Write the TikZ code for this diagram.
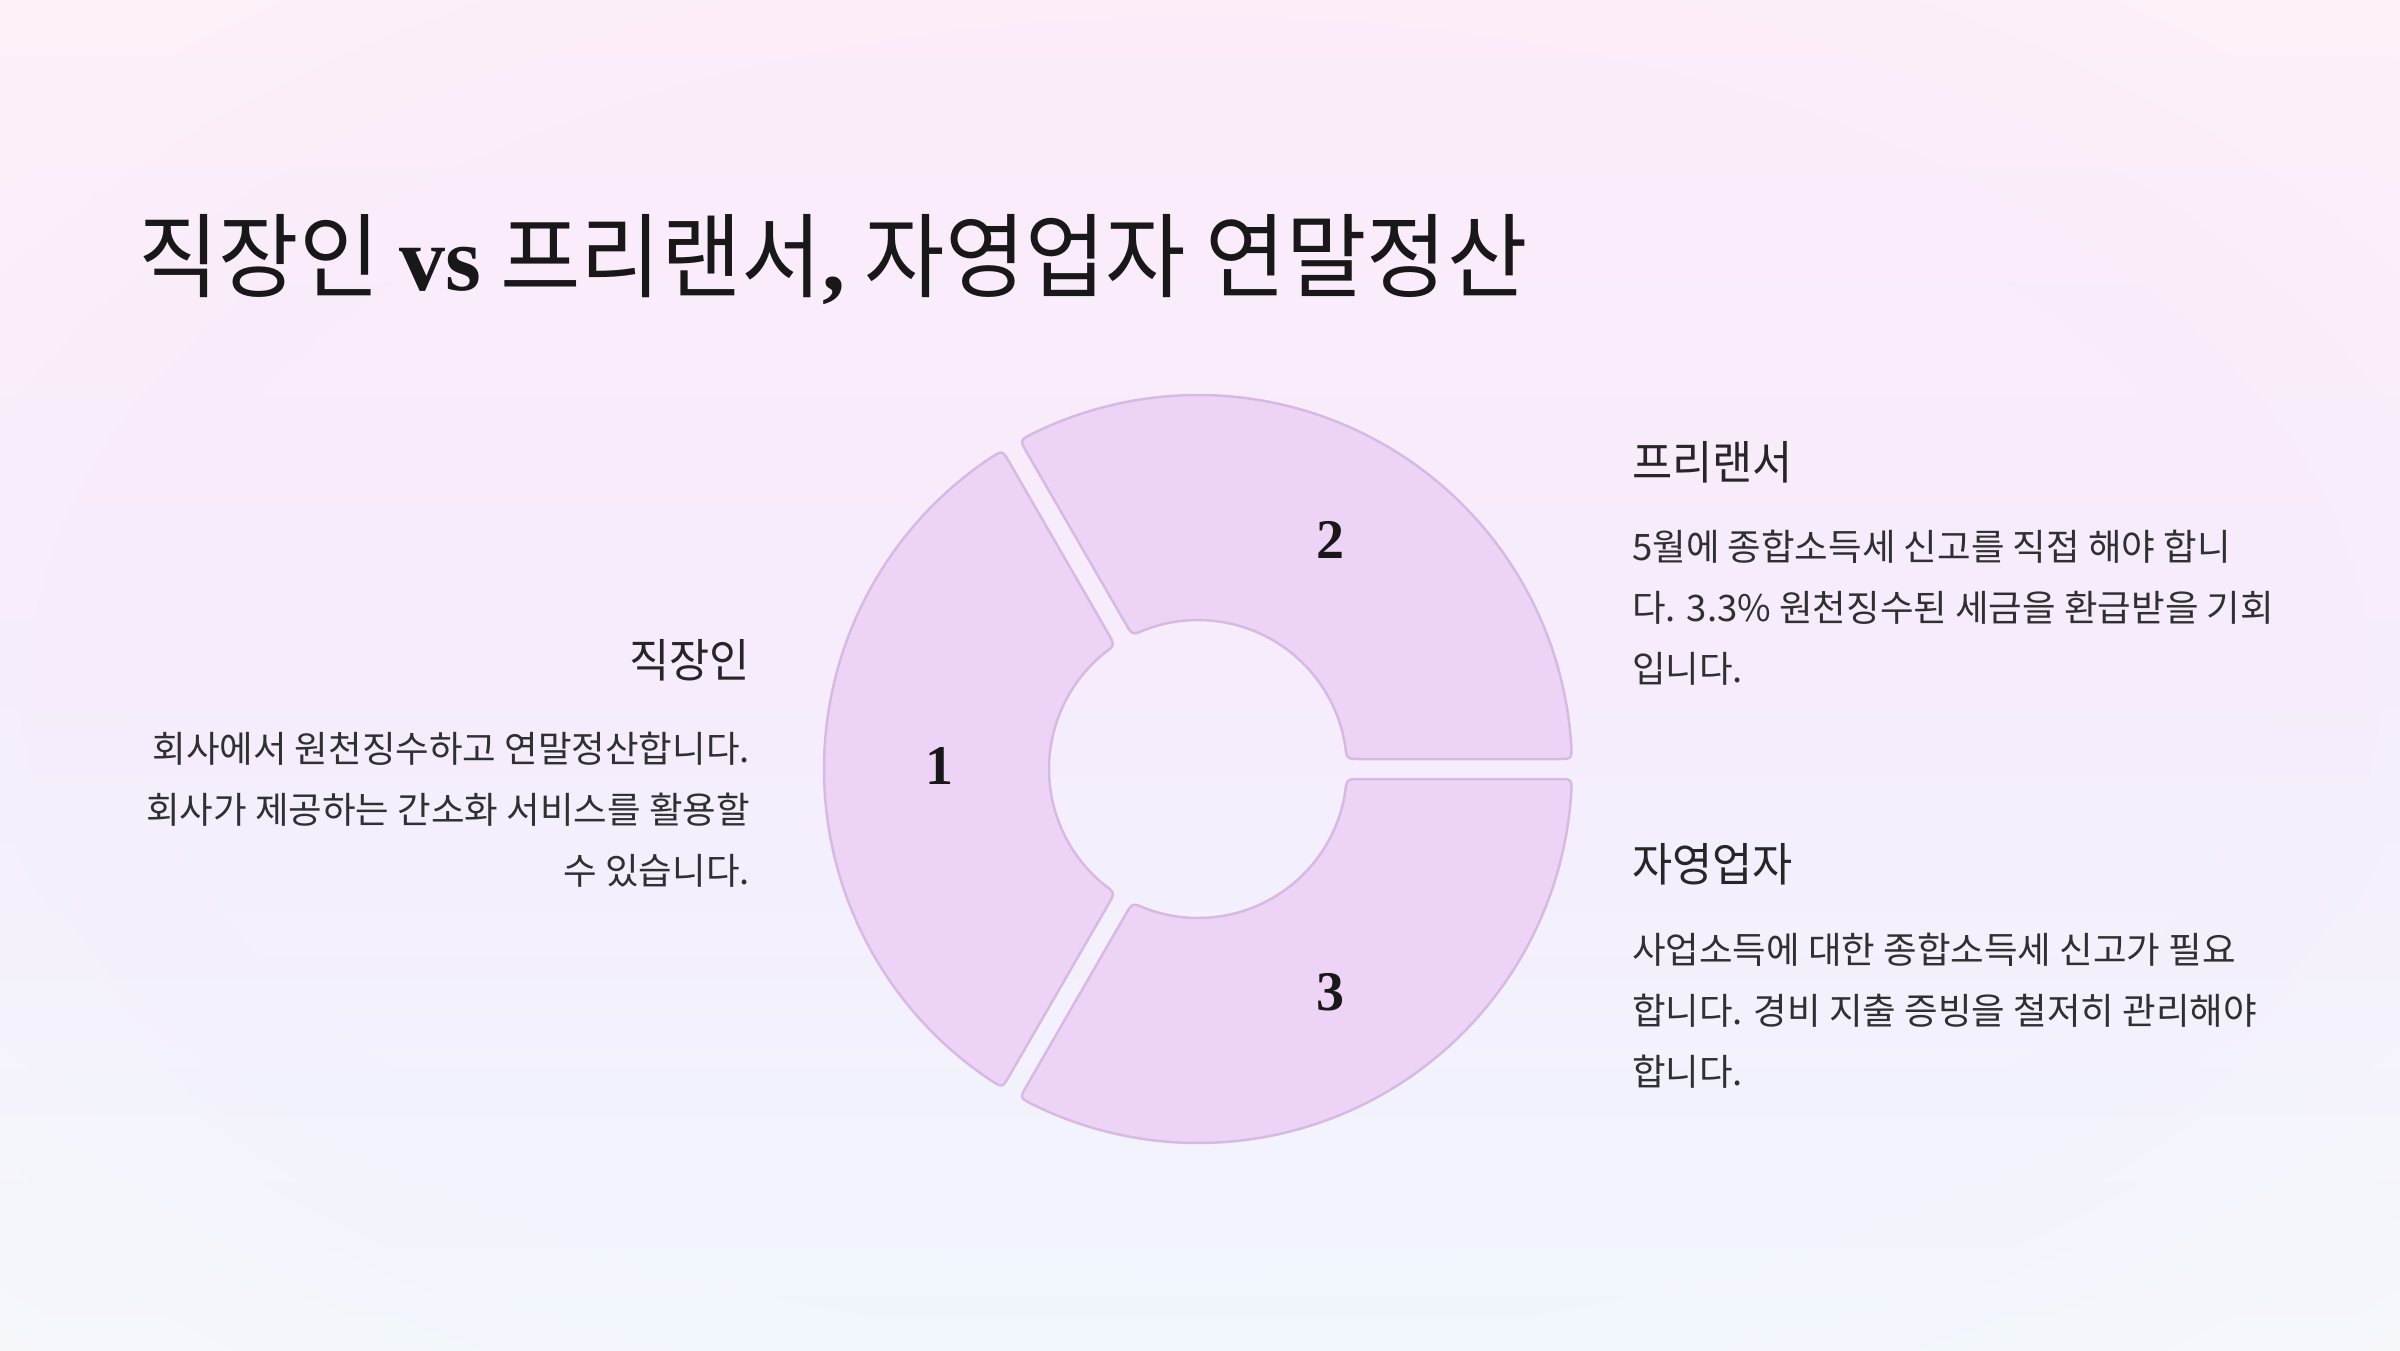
\documentclass[tikz,border=0pt]{standalone}
\usepackage{fontspec}
\usetikzlibrary{calc,fadings}
\newfontfamily\krtitle[FakeStretch=0.95]{Noto Sans CJK KR}
\newfontfamily\krhead[FakeStretch=0.95]{Noto Sans CJK KR}
\newfontfamily\krbody{Noto Sans CJK KR}
\newfontfamily\numserif{Liberation Serif}
\definecolor{bgtop}{RGB}{252,236,250}
\definecolor{bgmid}{RGB}{246,236,252}
\definecolor{bgbot}{RGB}{240,246,253}
\definecolor{bgedge}{RGB}{254,251,248}
\definecolor{segfill}{RGB}{237,212,246}
\definecolor{segline}{RGB}{215,186,228}
\definecolor{titlecol}{RGB}{24,24,24}
\definecolor{headcol}{RGB}{38,38,38}
\definecolor{bodycol}{RGB}{48,48,48}
\pgfdeclareradialshading{vignsh}{\pgfpoint{0bp}{0bp}}{color(0bp)=(black); color(20bp)=(black); color(50bp)=(white)}
\pgfdeclarefading{vign}{\pgfuseshading{vignsh}}
\newcommand{\ringseg}[2]{%
  \pgfmathsetmacro\oa{#1+1.532}\pgfmathsetmacro\ob{#2-1.532}%
  \pgfmathsetmacro\ia{#1+3.848}\pgfmathsetmacro\ib{#2-3.848}%
  \pgfmathsetmacro\oas{\oa+2.145}\pgfmathsetmacro\obs{\ob-2.145}%
  \pgfmathsetmacro\ias{\ia+5.38}\pgfmathsetmacro\ibs{\ib-5.38}%
  \pgfmathsetmacro\ra{#1+180}\pgfmathsetmacro\rb{#2+180}%
  \draw[segstyle] ($(C)+(\ia:149)+(#1:14)$) -- ($(C)+(\oa:374)+(\ra:14)$)
    .. controls ($(C)+(\oa:374)$) .. ($(C)+(\oas:374)$)
    arc[start angle=\oas, end angle=\obs, radius=374]
    .. controls ($(C)+(\ob:374)$) .. ($(C)+(\ob:374)+(\rb:14)$)
    -- ($(C)+(\ib:149)+(#2:14)$)
    .. controls ($(C)+(\ib:149)$) .. ($(C)+(\ibs:149)$)
    arc[start angle=\ibs, end angle=\ias, radius=149]
    .. controls ($(C)+(\ia:149)$) .. ($(C)+(\ia:149)+(#1:14)$) -- cycle;
}
\tikzset{
  segstyle/.style={fill=segfill, draw=segline, line width=2.5pt, line join=round},
  titletext/.style={inner sep=0pt, text=titlecol, font=\krtitle\fontsize{92}{100}\selectfont},
  headtext/.style={inner sep=0pt, text=headcol, font=\krhead\fontsize{46}{50}\selectfont},
  bodytext/.style={inner sep=0pt, text=bodycol, font=\krbody\fontsize{36.5}{40}\selectfont},
  numtext/.style={inner sep=0pt, text=titlecol, font=\numserif\bfseries\fontsize{56}{60}\selectfont}
}
\begin{document}
\begin{tikzpicture}[x=1pt,y=1pt]
\useasboundingbox (0,0) rectangle (2400,-1350);
\shade[top color=bgtop, bottom color=bgbot, middle color=bgmid] (0,0) rectangle (2400,-1350);
\begin{scope}
\clip (0,0) rectangle (2400,-1350);
\fill[bgedge, path fading=vign, fit fading=true, opacity=0.95] (-120,70) rectangle (2520,-1420);
\end{scope}
\coordinate (C) at (1198,-769);
\ringseg{0}{120}
\ringseg{120}{240}
\ringseg{240}{360}
\node[numtext] (n1) at ($(C)+(-259,3)$) {1};
\node[numtext] (n2) at ($(C)+(132,229)$) {2};
\node[numtext] (n3) at ($(C)+(132,-223)$) {3};
\node[titletext, anchor=base west] (title) at (138,-290) {직장인 {\numserif\bfseries vs} 프리랜서{\numserif\bfseries ,} 자영업자 연말정산};
\node[headtext, anchor=base east] (h1) at (750,-677) {직장인};
\node[bodytext, anchor=base east] (b1a) at (750,-762) {회사에서 원천징수하고 연말정산합니다.};
\node[bodytext, anchor=base east] (b1b) at (750,-823) {회사가 제공하는 간소화 서비스를 활용할};
\node[bodytext, anchor=base east] (b1c) at (750,-884) {수 있습니다.};
\node[headtext, anchor=base west] (h2) at (1632,-479) {프리랜서};
\node[bodytext, anchor=base west] (b2a) at (1632,-560) {5월에 종합소득세 신고를 직접 해야 합니};
\node[bodytext, anchor=base west] (b2b) at (1632,-621) {다. 3.3\% 원천징수된 세금을 환급받을 기회};
\node[bodytext, anchor=base west] (b2c) at (1632,-682) {입니다.};
\node[headtext, anchor=base west] (h3) at (1632,-881) {자영업자};
\node[bodytext, anchor=base west] (b3a) at (1632,-963) {사업소득에 대한 종합소득세 신고가 필요};
\node[bodytext, anchor=base west] (b3b) at (1632,-1024) {합니다. 경비 지출 증빙을 철저히 관리해야};
\node[bodytext, anchor=base west] (b3c) at (1632,-1085) {합니다.};
\end{tikzpicture}
\end{document}
